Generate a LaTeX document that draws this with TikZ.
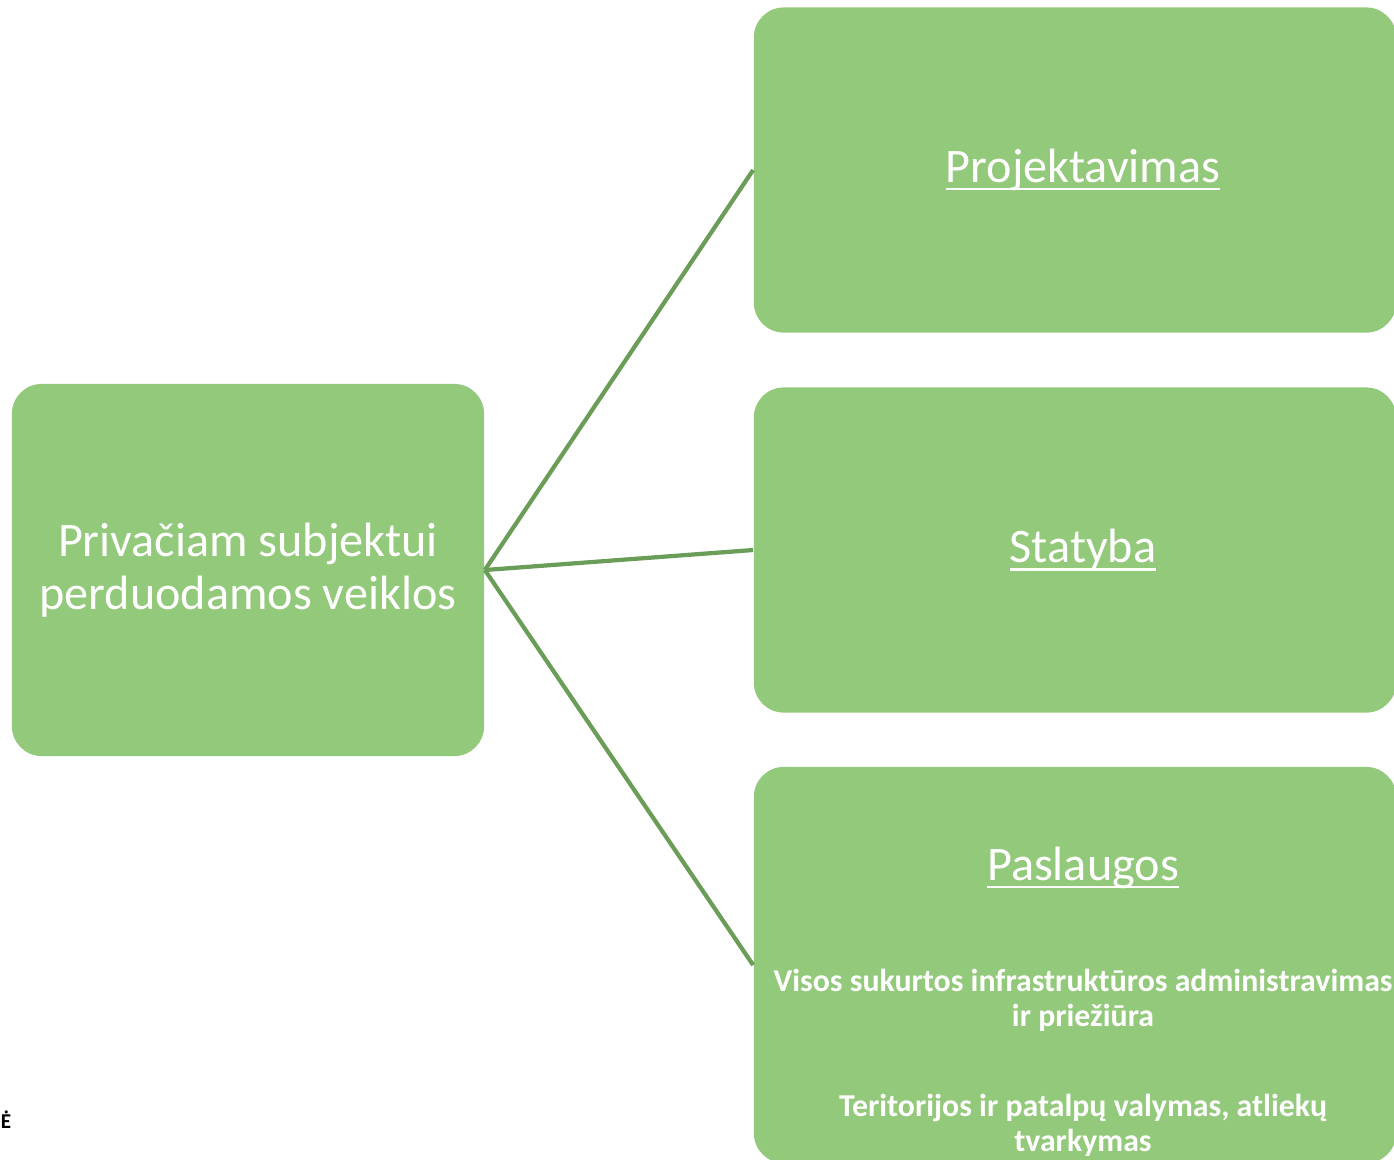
\documentclass[tikz,border=0pt]{standalone}
\usepackage{fontspec}
\setmainfont{Carlito}
\usepackage{tikz}
\usetikzlibrary{positioning}
\definecolor{boxgreen}{HTML}{93C97A}
\definecolor{linegreen}{HTML}{6A9D57}
\newcommand{\ulword}[1]{\setbox0\hbox{#1}\rlap{\rule[-2.2pt]{\wd0}{0.75pt}}\box0}

\begin{document}
\begin{tikzpicture}[x=0.01cm,y=-0.01cm,
  greenbox/.style={rectangle,rounded corners=0.3cm,fill=boxgreen,text=white,align=center},
  title/.style={text=white,font=\fontsize{13.7}{15}\selectfont},
  detail/.style={text=white,align=center,font=\bfseries\fontsize{9.05}{10}\selectfont}]
  \useasboundingbox (0,0) rectangle (1394,1159);
  \node[greenbox,minimum width=4.72cm,minimum height=3.72cm,font=\fontsize{13.7}{15}\selectfont] (veiklos) at (248,570) {Privačiam subjektui\\perduodamos veiklos};
  \node[greenbox,minimum width=6.42cm,minimum height=3.25cm] (projekt) at (1075,170) {};
  \node[greenbox,minimum width=6.42cm,minimum height=3.25cm] (statyba) at (1075,550) {};
  \node[greenbox,minimum width=6.42cm,minimum height=3.96cm] (paslaug) at (1075,965) {};
  \node[title] (projektT) at (1083,170) {\ulword{Projektavimas}};
  \node[title] (statybaT) at (1083,550) {\ulword{Statyba}};
  \node[title] (paslaugT) at (1083,868) {\ulword{Paslaugos}};
  \node[detail] (admin) at (1083,1000) {Visos sukurtos infrastruktūros administravimas\\ir priežiūra};
  \node[detail] (valym) at (1083,1125) {Teritorijos ir patalpų valymas, atliekų\\tvarkymas};
  \node[font=\bfseries\fontsize{6}{7}\selectfont] (e) at (6,1120) {Ė};
  \draw[linegreen,line width=1.2pt](veiklos.east)--(projekt.west);
  \draw[linegreen,line width=1.2pt](veiklos.east)--(statyba.west);
  \draw[linegreen,line width=1.2pt](veiklos.east)--(paslaug.west);
\end{tikzpicture}
\end{document}
